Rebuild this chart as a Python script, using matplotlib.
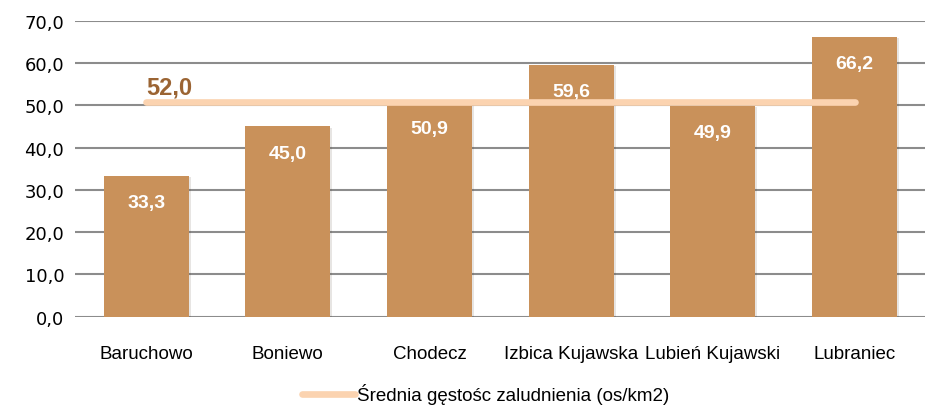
import matplotlib.pyplot as plt
from matplotlib import patheffects as pe

gminy = ['Baruchowo', 'Boniewo', 'Chodecz', 'Izbica Kujawska', 'Lubień Kujawski', 'Lubraniec']
gestosc = [33.3, 45.0, 50.9, 59.6, 49.9, 66.2]
srednia = [50.8, 50.8, 50.8, 50.8, 50.8, 50.8]
srednia_etykieta = '52,0'

narrow = ['Liberation Sans Narrow', 'Liberation Sans', 'DejaVu Sans']

fig = plt.figure(figsize=(9.3, 4.1), dpi=100)
ax = fig.add_axes([0.081, 0.225, 0.914, 0.722])

x = list(range(len(gminy)))
bars = ax.bar(x, gestosc, width=0.6, color='#C9915A', zorder=2)
for b in bars:
    b.set_path_effects([pe.SimplePatchShadow(offset=(1.5, -1), alpha=0.12), pe.Normal()])

for xi, v in zip(x, gestosc):
    ax.text(xi, v - 6.4, f'{v:.1f}'.replace('.', ','), ha='center', va='center',
            color='white', fontsize=14, fontweight='bold', family=narrow, zorder=2.5)

ax.plot(x, srednia, color='#FBD3B0', lw=4.8, solid_capstyle='round', zorder=3,
        label='Średnia gęstośc zaludnienia (os/km2)')
ax.text(x[0], srednia[0] + 0.9, srednia_etykieta, ha='left', va='bottom',
        color='#9B6433', fontsize=17, fontweight='bold', family=narrow, zorder=4)

ax.set_ylim(0, 70)
ax.set_xlim(-0.5, len(gminy) - 0.5)
ax.set_yticks(range(0, 71, 10))
ax.set_yticklabels([f'{t},0' for t in range(0, 71, 10)], fontsize=13)
ax.set_xticks(x)
ax.set_xticklabels(gminy, fontsize=13.5, family=narrow)
ax.tick_params(length=0, pad=8)
ax.tick_params(axis='x', pad=20)
ax.yaxis.grid(True, color='#8C8C8C', lw=1.5, zorder=0)
ax.set_axisbelow(True)
for s in ax.spines.values():
    s.set_visible(False)

leg = fig.legend(loc='lower center', bbox_to_anchor=(0.522, -0.03), frameon=False,
                 handlelength=2.8, handletextpad=0.1,
                 prop={'family': narrow, 'size': 13.5})

fig.savefig('out.png', dpi=100)
